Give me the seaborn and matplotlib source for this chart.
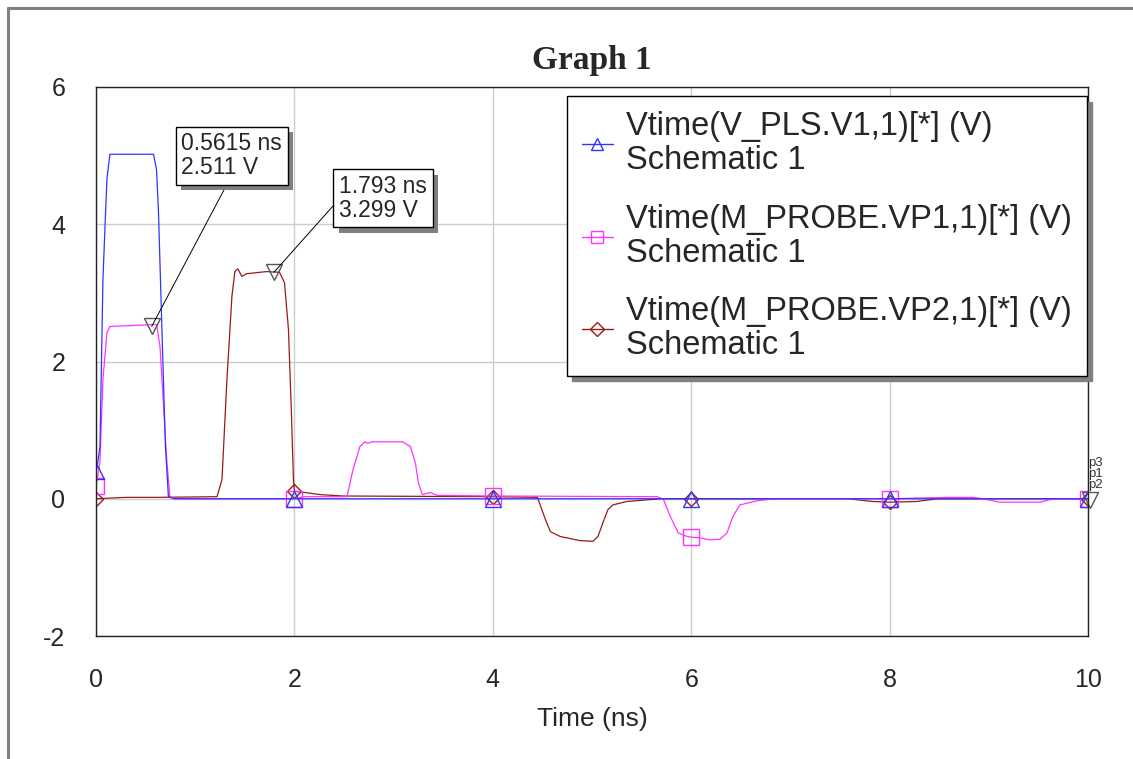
import matplotlib.pyplot as plt
import matplotlib.patheffects as pe
from matplotlib.lines import Line2D
import numpy as np
import pandas as pd
import seaborn as sns

sns.set_style("white")
plt.rcParams['font.family'] = ['Liberation Sans', 'DejaVu Sans']

# time (ns) / voltage (V)
v1_t = [0.0, 0.01, 0.04, 0.07, 0.11, 0.14, 0.58, 0.61, 0.63, 0.67, 0.70, 0.73, 0.78, 2.0, 4.0, 6.0, 8.0, 10.0]
v1_v = [0.40, 0.45, 0.76, 3.2, 4.66, 5.02, 5.02, 4.8, 4.17, 2.2, 0.76, 0.03, 0.0, 0.0, 0.0, 0.0, 0.0, 0.0]

vp1_t = [0.0, 0.04, 0.07, 0.11, 0.14, 0.61, 0.645, 0.675, 0.715, 0.745, 0.8, 2.0, 2.1, 2.53, 2.59,
         2.66, 2.71, 2.74, 2.79, 3.09, 3.17, 3.22, 3.25, 3.29, 3.37, 3.44, 4.0, 5.66, 5.72, 5.79,
         5.87, 5.96, 6.0, 6.09, 6.19, 6.29, 6.36, 6.42, 6.49, 6.66, 6.83, 8.0, 8.58, 8.84, 8.94,
         9.11, 9.52, 9.65, 10.0]
vp1_v = [0.18, 0.53, 1.74, 2.42, 2.51, 2.54, 2.22, 1.49, 0.53, 0.03, 0.0, 0.0, 0.03, 0.03, 0.42,
         0.76, 0.83, 0.81, 0.83, 0.83, 0.76, 0.52, 0.23, 0.06, 0.09, 0.05, 0.04, 0.03, -0.01, -0.26,
         -0.5, -0.55, -0.56, -0.57, -0.6, -0.59, -0.5, -0.26, -0.09, -0.03, 0.0, 0.0, 0.02, 0.02, 0.0,
         -0.05, -0.05, 0.0, 0.0]

vp2_t = [0.0, 0.3, 0.6, 1.22, 1.27, 1.32, 1.37, 1.40, 1.43, 1.47, 1.52, 1.72, 1.85, 1.90, 1.94,
         1.97, 1.99, 2.0, 2.11, 2.26, 2.49, 4.0, 4.45, 4.47, 4.53, 4.58, 4.68, 4.88, 5.01, 5.06,
         5.11, 5.16, 5.21, 5.35, 5.69, 6.0, 7.6, 7.7, 7.83, 8.0, 8.27, 8.48, 10.0]
vp2_v = [0.0, 0.02, 0.02, 0.03, 0.28, 1.74, 2.95, 3.31, 3.35, 3.24, 3.28, 3.31, 3.30, 3.15, 2.47,
         1.25, 0.28, 0.11, 0.09, 0.06, 0.04, 0.03, 0.02, -0.06, -0.3, -0.48, -0.55, -0.61, -0.62, -0.55,
         -0.35, -0.16, -0.09, -0.04, 0.0, 0.0, 0.0, -0.02, -0.04, -0.05, -0.04, 0.0, 0.0]

mark_times = [0, 2, 4, 6, 8, 10]
labels = ["Vtime(V_PLS.V1,1)[*] (V)\nSchematic 1",
          "Vtime(M_PROBE.VP1,1)[*] (V)\nSchematic 1",
          "Vtime(M_PROBE.VP2,1)[*] (V)\nSchematic 1"]

ann_t = [0.5615, 1.793]
ann_v = [2.511, 3.299]
ann_text = ["0.5615 ns\n2.511 V", "1.793 ns\n3.299 V"]

probe_names = ["p3", "p1", "p2"]

x_ticks = [0, 2, 4, 6, 8, 10]
y_ticks = [-2, 0, 2, 4, 6]

blue = '#3333ff'
pink = '#ff33ff'
brown = '#9a1a1a'

fig = plt.figure(figsize=(11.33, 7.59), dpi=100)
ax = fig.add_axes([96 / 1133, 1 - 636 / 759, (1088 - 96) / 1133, (636 - 87) / 759])

series = [(vp2_t, vp2_v, brown, 'D', 7), (vp1_t, vp1_v, pink, 's', 11), (v1_t, v1_v, blue, '^', 11)]
for t, v, c, m, ms in series:
    df = pd.DataFrame({'t': t, 'v': v})
    idx = list(np.flatnonzero(np.isin(df['t'], mark_times)))
    sns.lineplot(data=df, x='t', y='v', ax=ax, color=c, linewidth=0.9, sort=False, estimator=None,
                 marker=m, markevery=idx, ms=ms, mfc='none', mec=c, mew=1, legend=False)

# marker readouts
ax.plot(ann_t, ann_v, ls='none', marker='v', ms=12, mfc='none', mec='#555555', mew=1)
ann_pos = [(0.86, 5.34), (2.45, 4.72)]
rel = [(0.48, 0.0), (0.0, 0.48)]
for i in range(2):
    a = ax.annotate(ann_text[i], xy=(ann_t[i], ann_v[i]), xytext=ann_pos[i], ha='left', va='top',
                    fontsize=16.5, linespacing=1.05,
                    bbox=dict(boxstyle='square,pad=0.25', fc='white', ec='black', lw=1),
                    arrowprops=dict(arrowstyle='-', color='black', lw=0.7, relpos=rel[i],
                                    shrinkA=0, shrinkB=0))
    a.get_bbox_patch().set_path_effects([pe.SimplePatchShadow(offset=(4, -4), shadow_rgbFace='#808080', alpha=1.0),
                                         pe.Normal()])

# probe tags at the right edge
ax.plot([10.02], [-0.02], marker='v', ms=11, mfc='none', mec='#555555', clip_on=False)
for k, p in enumerate(probe_names):
    ax.text(10.0, 0.52 - 0.16 * k, p, fontsize=9.5, color='#333333', ha='left', va='center', clip_on=False)

ax.set_xlim(0, 10)
ax.set_ylim(-2, 6)
ax.set_xticks(x_ticks)
ax.set_yticks(y_ticks)
ax.set_xticklabels([str(x) for x in x_ticks])
ax.set_yticklabels([str(y) for y in y_ticks])
ax.tick_params(length=0, labelsize=18)
ax.tick_params(axis='y', pad=22)
ax.tick_params(axis='x', pad=23)
ax.grid(True, color='#cccccc', lw=1)
ax.set_axisbelow(True)
for s in ax.spines.values():
    s.set_color('#222222')
    s.set_linewidth(1)

ax.set_xlabel("Time (ns)", fontsize=19, labelpad=11)
ax.set_ylabel(None)
ax.set_title("Graph 1", fontfamily='Liberation Serif', fontweight='bold', fontsize=24, pad=13)

handles = [Line2D([], [], color=blue, marker='^', ms=9, mfc='none', mec=blue, lw=1),
           Line2D([], [], color=pink, marker='s', ms=9, mfc='none', mec=pink, lw=1),
           Line2D([], [], color=brown, marker='D', ms=7, mfc='none', mec=brown, lw=1)]
leg = ax.legend(handles, labels, loc='upper right', bbox_to_anchor=(0.9985, 0.983), fontsize=23.5,
                frameon=True, fancybox=False, edgecolor='black', framealpha=1,
                shadow={'ox': 4, 'oy': -4, 'color': '#808080', 'alpha': 1},
                handlelength=0.96, handletextpad=0.4, labelspacing=0.85, borderpad=0.45,
                borderaxespad=0)
leg.get_frame().set_linewidth(1)
for txt in leg.get_texts():
    txt.set_linespacing(1.12)

# outer window frame
fig.add_artist(Line2D([8 / 1133, 8 / 1133], [0, 1 - 8 / 759], transform=fig.transFigure, color='#808080', lw=2.2))
fig.add_artist(Line2D([8 / 1133, 1], [1 - 8 / 759, 1 - 8 / 759], transform=fig.transFigure, color='#808080', lw=2.2))

plt.savefig('out.png', dpi=100)
